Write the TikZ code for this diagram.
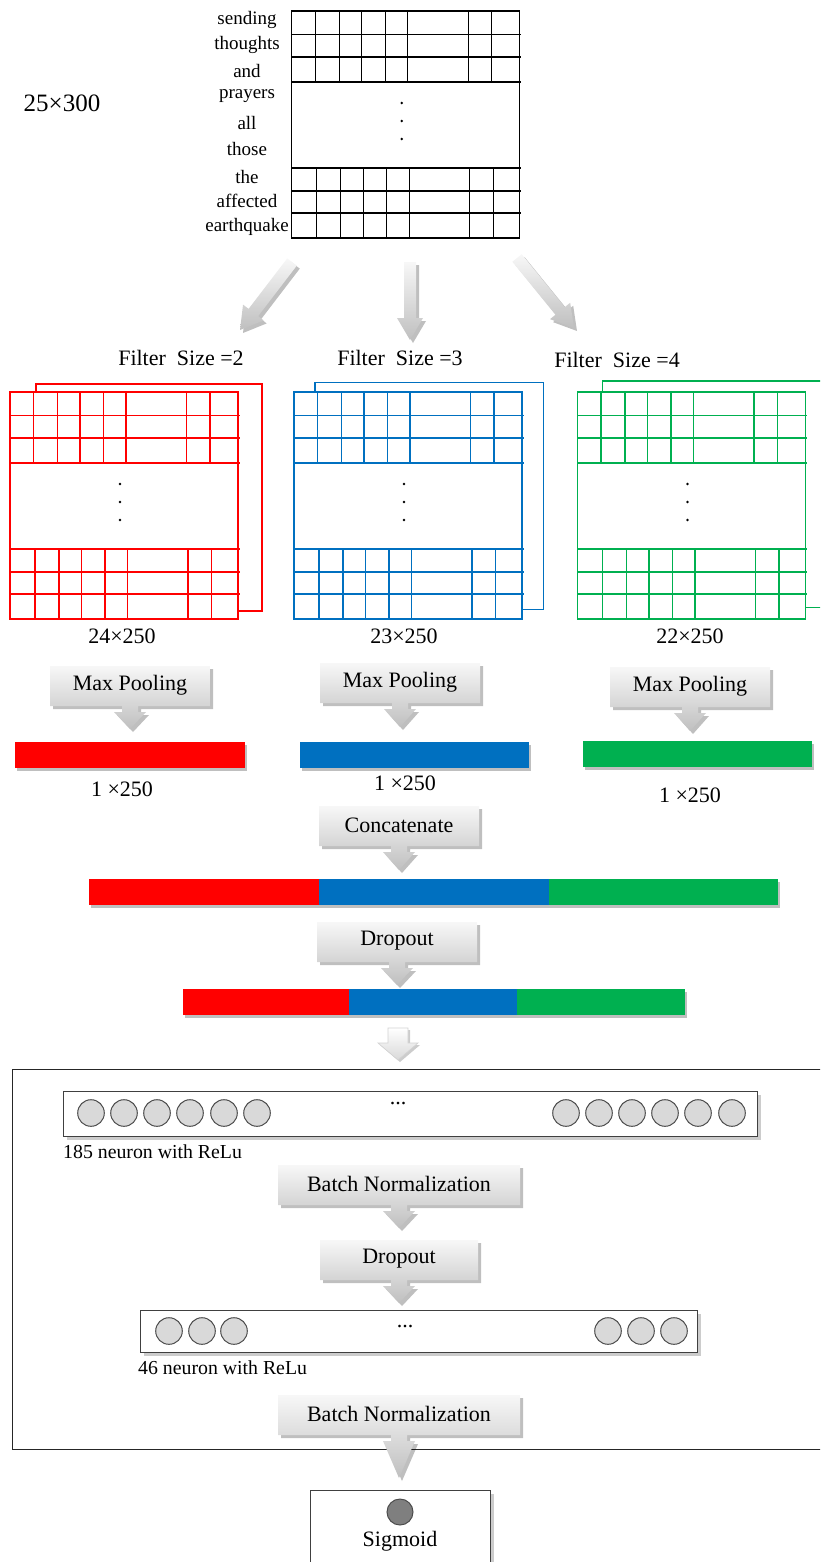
\documentclass[tikz,border=0pt]{standalone}
\usepackage{fontspec}
\setmainfont{Liberation Serif}
\usetikzlibrary{calc,shadows}
\definecolor{cred}{HTML}{FF0000}
\definecolor{cblue}{HTML}{0070C0}
\definecolor{cgreen}{HTML}{00B050}
\definecolor{nfill}{HTML}{D9D9D9}
\definecolor{sfill}{HTML}{7F7F7F}
\tikzset{
 lbl/.style={inner sep=0pt, font=\fontsize{22}{24}\selectfont},
 word/.style={inner sep=0pt, font=\fontsize{19}{21}\selectfont},
 smalllbl/.style={inner sep=0pt, font=\fontsize{19.8}{21}\selectfont, anchor=west},
 gridline/.style={line width=1.3pt},
 callfill/.style={top color=gray!6, bottom color=gray!50, draw=none,
   drop shadow={shadow xshift=3pt, shadow yshift=-3pt, opacity=0.25, fill=black}},
 hollowarrow/.style={top color=white, bottom color=gray!30, draw=gray!35, line width=0.6pt,
   drop shadow={shadow xshift=2pt, shadow yshift=-2pt, opacity=0.2, fill=black}},
 layerbox/.style={draw=black!75, line width=1.3pt, fill=white, inner sep=0pt, anchor=north west,
   drop shadow={shadow xshift=3pt, shadow yshift=-3pt, opacity=0.2, fill=black}},
 neuron/.style={circle, draw=black!70, line width=1pt, fill=nfill, minimum size=26.6pt, inner sep=0pt},
 bar/.style={draw=none, inner sep=0pt, anchor=north west, minimum height=26pt,
   drop shadow={shadow xshift=2pt, shadow yshift=-3pt, opacity=0.25, fill=black}},
 gridbox/.style={inner sep=0pt, anchor=north west, minimum width=228pt, minimum height=227pt},
}
\newcommand\mycallout[6]{% name, cx, top, width, tip, text
 \path[callfill] ({#2-#4/2},#3) -- ({#2+#4/2},#3) -- ({#2+#4/2},#3+40) -- ({#2+8},#3+40)
   -- ({#2+8},#3+46) -- ({#2+16},#3+46) -- (#2,#5) -- ({#2-16},#3+46) -- ({#2-8},#3+46)
   -- ({#2-8},#3+40) -- ({#2-#4/2},#3+40) -- cycle;
 \node[lbl] (#1) at (#2,#3+19) {#6};
}
\newcommand\mygrid[3]{% x0, y0, colour
 \begin{scope}[shift={(#1,#2)}, draw=#3, gridline]
  \draw (0,0) rectangle (228,227);
  \foreach \yy in {23.5,46,71,157,180,202} \draw (0,\yy) -- (229.5,\yy);
  \foreach \xx in {23.5,47.5,70,93.5,116,176.5,200} {\draw (\xx,0) -- (\xx,71); \draw (\xx+1.5,157) -- (\xx+1.5,227);}
  \foreach \yy in {92,110,128} \fill[black] (110,\yy) circle (1.3pt);
 \end{scope}}
\newcommand\blockarrow[3]{% prefix, tail, tip
 \coordinate (#1a) at #2; \coordinate (#1b) at #3;
 \coordinate (#1h) at ($(#1b)!22pt!(#1a)$);
 \path[callfill] ($(#1a)!6pt!90:(#1b)$) -- ($(#1h)!6pt!90:(#1b)$) -- ($(#1h)!13pt!90:(#1b)$)
   -- (#1b) -- ($(#1h)!13pt!-90:(#1b)$) -- ($(#1h)!6pt!-90:(#1b)$) -- ($(#1a)!6pt!-90:(#1b)$) -- cycle;
}
\begin{document}
\begin{tikzpicture}[x=1pt,y=-1pt]
\path[use as bounding box] (0,0) rectangle (820,1562);
\clip (0,0) rectangle (820,1562);

% ---- input matrix ----
\node[lbl, font=\fontsize{25}{27}\selectfont] (dim) at (62,103) {25×300};
\foreach \w/\yy [count=\i] in {sending/20,thoughts/45,and/71,prayers/96,all/123,those/149,the/177,affected/201,earthquake/227}
  \node[word] (w\i) at (247,\yy) {\w};
\node[gridbox] (emb) at (291.7,11) {};
\mygrid{291.7}{11}{black}

% ---- arrows to filters ----
\blockarrow{ar1}{(292,262)}{(240,330)}
\blockarrow{ar2}{(410,262)}{(410,340)}
\blockarrow{ar3}{(517,258)}{(574,328)}

\node[lbl] (f2) at (181,358) {Filter\ \ Size =2};
\node[lbl] (f3) at (400,358) {Filter\ \ Size =3};
\node[lbl] (f4) at (617,360) {Filter\ \ Size =4};

% ---- feature maps ----
\draw[cred, gridline] (36,384) rectangle (262,611);
\node[gridbox, fill=white] (gR) at (10,392) {};
\mygrid{10}{392}{cred}
\draw[cblue, gridline] (315,382.3) rectangle (543.3,609.3);
\node[gridbox, fill=white] (gB) at (294,392) {};
\mygrid{294}{392}{cblue}
\draw[cgreen, gridline] (602.7,381) rectangle (840,607.7);
\node[gridbox, fill=white] (gG) at (577.5,392) {};
\mygrid{577.5}{392}{cgreen}

\node[lbl] (d2) at (122,636) {24×250};
\node[lbl] (d3) at (404,636) {23×250};
\node[lbl] (d4) at (690,636) {22×250};

% ---- max pooling ----
\mycallout{mp1}{130}{666}{160}{729}{Max Pooling}
\mycallout{mp2}{400}{663}{160}{727}{Max Pooling}
\mycallout{mp3}{690}{667}{160}{731}{Max Pooling}

\node[bar, fill=cred, minimum width=230pt] (bR) at (15,742) {};
\node[bar, fill=cblue, minimum width=229pt] (bB) at (300,742) {};
\node[bar, fill=cgreen, minimum width=229pt] (bG) at (583,741) {};
\node[lbl] (p2) at (122,789) {1 ×250};
\node[lbl] (p3) at (405,783) {1 ×250};
\node[lbl] (p4) at (690,795) {1 ×250};

% ---- concatenate ----
\mycallout{cc}{399}{806}{160}{870}{Concatenate}
\node[bar, fill=cred, minimum width=230pt] (cR) at (89,879) {};
\node[bar, fill=cblue, minimum width=230pt] (cB) at (319,879) {};
\node[bar, fill=cgreen, minimum width=229pt] (cG) at (549,879) {};

% ---- dropout ----
\mycallout{dr1}{397}{922}{160}{985}{Dropout}
\node[bar, fill=cred, minimum width=166pt] (sR) at (183,989) {};
\node[bar, fill=cblue, minimum width=168pt] (sB) at (349,989) {};
\node[bar, fill=cgreen, minimum width=168pt] (sG) at (517,989) {};

\path[hollowarrow] (388,1028) -- (408,1028) -- (408,1043) -- (418,1043) -- (398,1060)
   -- (378,1043) -- (388,1043) -- cycle;

% ---- dense block ----
\node[draw=black!85, line width=1.3pt, inner sep=0pt, anchor=north west,
      minimum width=840pt, minimum height=380pt] (outer) at (12,1069) {};

\node[layerbox, minimum width=694pt, minimum height=45pt] (L1) at (63,1091) {};
\foreach \x in {91,124,157,190,224,257,566,599,632,665,698,732}
  \node[neuron] (a\x) at (\x,1113) {};
\node[lbl, anchor=base] (e1) at (398,1104) {...};
\node[smalllbl] (t1) at (63,1152) {185 neuron with ReLu};

\mycallout{bn1}{399}{1165}{242}{1228}{Batch Normalization}
\mycallout{dr2}{399}{1240}{158}{1303}{Dropout}

\node[layerbox, minimum width=557pt, minimum height=42pt] (L2) at (140,1310) {};
\foreach \x in {169,202,234,608,641,674}
  \node[neuron] (b\x) at (\x,1331) {};
\node[lbl, anchor=base] (e2) at (405,1327) {...};
\node[smalllbl] (t2) at (138,1368) {46 neuron with ReLu};

\mycallout{bn2}{399}{1395}{242}{1478}{Batch Normalization}

% ---- output ----
\node[layerbox, minimum width=180pt, minimum height=90pt] (out) at (310,1490) {};
\node[neuron, fill=sfill, minimum size=26pt] (sg) at (400,1512) {};
\node[lbl] (sgl) at (400,1541) {Sigmoid};
\end{tikzpicture}
\end{document}
